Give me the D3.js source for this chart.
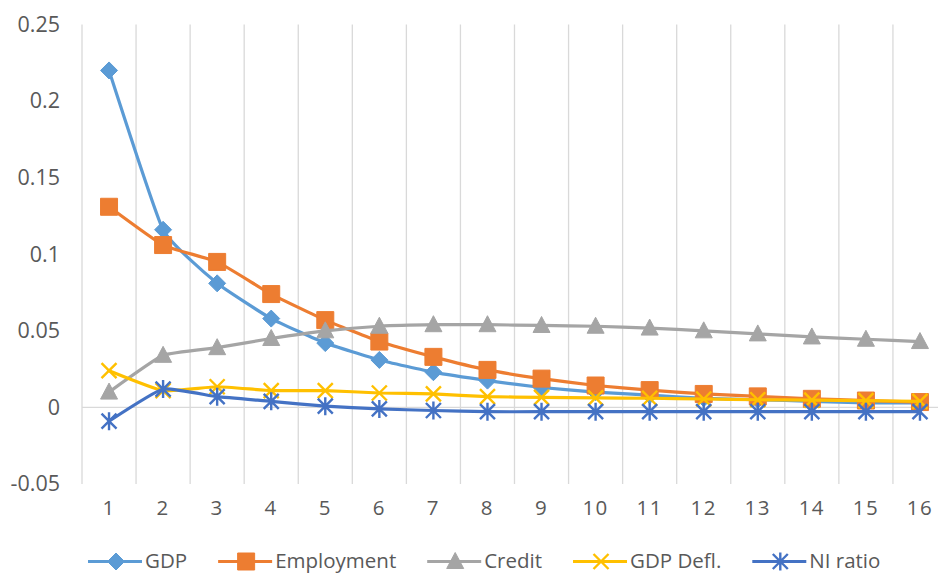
<!DOCTYPE html>
<html>
<head>
<meta charset="utf-8">
<script src="https://cdn.jsdelivr.net/npm/d3@7"></script>
<style>
  html, body { margin: 0; padding: 0; background: #fff; }
  svg { display: block; font-family: "Open Sans", "Noto Sans", sans-serif; }
</style>
</head>
<body>
<svg id="chart" width="938" height="575"></svg>
<script>
// ---- data ----
const categories = ["1","2","3","4","5","6","7","8","9","10","11","12","13","14","15","16"];
const gdp        = [0.220, 0.116, 0.081, 0.058, 0.042, 0.031, 0.023, 0.0175, 0.013, 0.010, 0.008, 0.006, 0.005, 0.004, 0.003, 0.003];
const employment = [0.131, 0.106, 0.095, 0.074, 0.057, 0.043, 0.033, 0.0245, 0.0188, 0.0143, 0.0113, 0.0088, 0.0072, 0.0056, 0.0045, 0.0035];
const credit     = [0.010, 0.034, 0.039, 0.045, 0.050, 0.053, 0.054, 0.054, 0.0535, 0.053, 0.0518, 0.050, 0.048, 0.046, 0.0445, 0.043];
const gdpDefl    = [0.024, 0.011, 0.0135, 0.011, 0.011, 0.0094, 0.0088, 0.007, 0.0066, 0.0062, 0.006, 0.0055, 0.005, 0.0048, 0.0044, 0.004];
const niRatio    = [-0.009, 0.012, 0.007, 0.004, 0.0008, -0.001, -0.002, -0.0028, -0.0028, -0.0028, -0.0028, -0.0028, -0.0028, -0.0028, -0.0028, -0.0028];
const seriesNames = ["GDP", "Employment", "Credit", "GDP Defl.", "NI ratio"];
const yTicks = [-0.05, 0, 0.05, 0.1, 0.15, 0.2, 0.25];
const yTickLabels = ["-0.05", "0", "0.05", "0.1", "0.15", "0.2", "0.25"];

const series = [
  { name: seriesNames[0], values: gdp,        color: "#5B9BD5", marker: "diamond" },
  { name: seriesNames[1], values: employment, color: "#ED7D31", marker: "square" },
  { name: seriesNames[2], values: credit,     color: "#A5A5A5", marker: "triangle" },
  { name: seriesNames[3], values: gdpDefl,    color: "#FFC000", marker: "x" },
  { name: seriesNames[4], values: niRatio,    color: "#4472C4", marker: "star" }
];

// ---- layout ----
const svg = d3.select("#chart");
const plot = { left: 82, right: 947, top: 24.5, bottom: 484 };
const textColor = "#595959";
const gridColor = "#D9D9D9";

const x = d3.scaleBand().domain(categories).range([plot.left, plot.right]).paddingInner(0).paddingOuter(0);
const y = d3.scaleLinear().domain([-0.05, 0.25]).range([plot.bottom, plot.top]);
const cx = c => x(c) + x.bandwidth() / 2;

// vertical gridlines at category boundaries
const boundaries = categories.map(c => x(c));
svg.append("g").selectAll("line").data(boundaries).join("line")
  .attr("x1", d => d).attr("x2", d => d)
  .attr("y1", plot.top).attr("y2", plot.bottom)
  .attr("stroke", gridColor).attr("stroke-width", 1.3);

// horizontal axis line at zero
svg.append("line")
  .attr("x1", plot.left).attr("x2", plot.right)
  .attr("y1", y(0)).attr("y2", y(0))
  .attr("stroke", gridColor).attr("stroke-width", 1.3);

// y axis labels
const yAxis = d3.axisLeft(y).tickValues(yTicks).tickSize(0).tickPadding(0)
  .tickFormat((d, i) => yTickLabels[i]);
const gy = svg.append("g").attr("transform", "translate(60,0)").call(yAxis);
gy.select(".domain").remove();
gy.selectAll("text").attr("fill", textColor).attr("font-size", 21.5)
  .attr("font-family", "'Open Sans', sans-serif");

// x axis labels
const xAxis = d3.axisBottom(x).tickSize(0).tickPadding(0);
const gx = svg.append("g").attr("transform", "translate(0,500)").call(xAxis);
gx.select(".domain").remove();
gx.selectAll("text").attr("fill", textColor).attr("font-size", 20.5)
  .attr("letter-spacing", "1.5px")
  .attr("font-family", "'Open Sans', sans-serif");

// ---- marker paths ----
function markerPath(type) {
  switch (type) {
    case "diamond": { const r = 8.5; return `M0,${-r}L${r},0L0,${r}L${-r},0Z`; }
    case "square":  { const r = 8.5; return `M${-r},${-r}H${r}V${r}H${-r}Z`; }
    case "triangle":{ const w = 8.5, h = 8; return `M0,${-h-1}L${w},${h-1}L${-w},${h-1}Z`; }
    case "x":       { const r = 7.5; return `M${-r},${-r}L${r},${r}M${-r},${r}L${r},${-r}`; }
    case "star":    { const r = 7.5, v = 9; return `M${-r},${-r}L${r},${r}M${-r},${r}L${r},${-r}M0,${-v}L0,${v}`; }
  }
}
const filled = t => (t === "diamond" || t === "square" || t === "triangle");

const line = d3.line()
  .x((d, i) => cx(categories[i]))
  .y(d => y(d))
  .curve(d3.curveCardinal.tension(0.6));

series.forEach(s => {
  const g = svg.append("g");
  g.append("path").datum(s.values)
    .attr("d", line)
    .attr("fill", "none").attr("stroke", s.color)
    .attr("stroke-width", 3.2).attr("stroke-linejoin", "round").attr("stroke-linecap", "round");
  g.selectAll("path.m").data(s.values).join("path").attr("class", "m")
    .attr("transform", (d, i) => `translate(${cx(categories[i])},${y(d)})`)
    .attr("d", markerPath(s.marker))
    .attr("fill", filled(s.marker) ? s.color : "none")
    .attr("stroke", s.color)
    .attr("stroke-width", filled(s.marker) ? 1 : 2.4);
});

// ---- legend ----
const legend = svg.append("g");
let lx = 88;
const ly = 561.5;
series.forEach(s => {
  const g = legend.append("g");
  g.append("line").attr("x1", lx).attr("x2", lx + 54).attr("y1", ly).attr("y2", ly)
    .attr("stroke", s.color).attr("stroke-width", 3.2);
  g.append("path").attr("transform", `translate(${lx + 28},${ly})`)
    .attr("d", markerPath(s.marker))
    .attr("fill", filled(s.marker) ? s.color : "none")
    .attr("stroke", s.color)
    .attr("stroke-width", filled(s.marker) ? 1 : 2.4);
  const t = g.append("text").attr("x", lx + 57).attr("y", ly).attr("dy", "0.34em")
    .attr("fill", textColor).attr("font-size", 20.5)
    .attr("font-family", "'Open Sans', sans-serif")
    .text(s.name);
  lx += 57 + t.node().getComputedTextLength() + 31;
});
</script>
</body>
</html>
